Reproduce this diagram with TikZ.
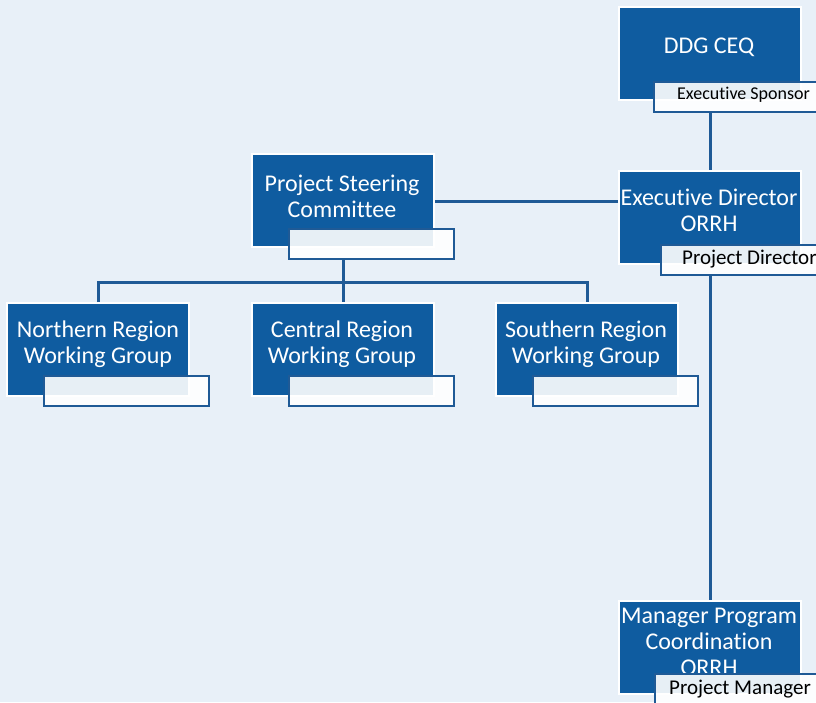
\documentclass[tikz,border=0pt]{standalone}
\usepackage{fontspec}
\setmainfont{Carlito}[Ligatures=NoCommon]
\definecolor{bg}{HTML}{E8F0F8}
\definecolor{boxblue}{HTML}{0F5CA0}
\definecolor{lineblue}{HTML}{1F5A96}
\begin{document}
\begin{tikzpicture}[x=1pt,y=-1pt,
 box/.style={draw=white,line width=2pt,fill=boxblue,minimum width=182pt,minimum height=93pt,anchor=north west,inner sep=0pt},
 tag/.style={draw=lineblue,line width=2pt,fill=white,fill opacity=0.9,minimum width=165pt,minimum height=30pt,anchor=north west,inner sep=0pt},
 txt/.style={text=white,align=center,font=\fontsize{24}{26}\selectfont,inner sep=0pt},
 tagtxt/.style={text=black,anchor=west,inner sep=0pt},
 conn/.style={draw=lineblue,line width=3pt}]
\fill[bg] (0,0) rectangle (816,702);
\useasboundingbox (0,0) rectangle (816,702);
% boxes
\node[box] (ddg) at (618,6) {};
\node[box] (ed)  at (618,170) {};
\node[box] (psc) at (251,153) {};
\node[box] (nr)  at (6,302) {};
\node[box] (cr)  at (251,302) {};
\node[box] (sr)  at (495,302) {};
\node[box] (mpc) at (618,600) {};
% box texts
\node[txt] (ddgt) at (709,47) {DDG CEQ};
\node[txt] (edt)  at (709,210) {Executive Director\\ORRH};
\node[txt] (psct) at (342,196) {Project Steering\\Committee};
\node[txt] (nrt)  at (98,344) {Northern Region\\Working Group};
\node[txt] (crt)  at (342,344) {Central Region\\Working Group};
\node[txt] (srt)  at (586,344) {Southern Region\\Working Group};
\node[txt] (mpct) at (709,642) {Manager Program\\Coordination\\ORRH};
% tags
\node[tag] (ddgl) at ([shift={(35,75)}]ddg.north west) {};
\node[tag] (edl)  at ([shift={(42,74)}]ed.north west) {};
\node[tag] (pscl) at ([shift={(37,75)}]psc.north west) {};
\node[tag] (nrl)  at ([shift={(37,73)}]nr.north west) {};
\node[tag] (crl)  at ([shift={(37,73)}]cr.north west) {};
\node[tag] (srl)  at ([shift={(37,73)}]sr.north west) {};
\node[tag] (mpcl) at ([shift={(36,73)}]mpc.north west) {};
% tag texts
\node[tagtxt,font=\fontsize{18}{20}\selectfont] (ddgtt) at (677,95) {Executive Sponsor};
\node[tagtxt,font=\fontsize{21}{23}\selectfont] (edtt) at (682,259) {Project Director};
\node[tagtxt,font=\fontsize{21}{23}\selectfont] (mpctt) at (669,689) {Project Manager};
% connectors
\draw[conn] (ddgl.south -| ddg.south) -- (ed.north);
\coordinate (edj) at ([yshift=-31pt]ed.north west);
\draw[conn] (edj) -- (edj -| psc.east);
\coordinate (bus) at ([yshift=-22pt]pscl.south);
\draw[conn] (pscl.south -| psc.south) -- (cr.north);
\draw[conn] (nr.north) -- (nr.north |- bus) -- (sr.north |- bus) -- (sr.north);
\draw[conn] (edl.south -| ed.south) -- (mpc.north);
\end{tikzpicture}
\end{document}
